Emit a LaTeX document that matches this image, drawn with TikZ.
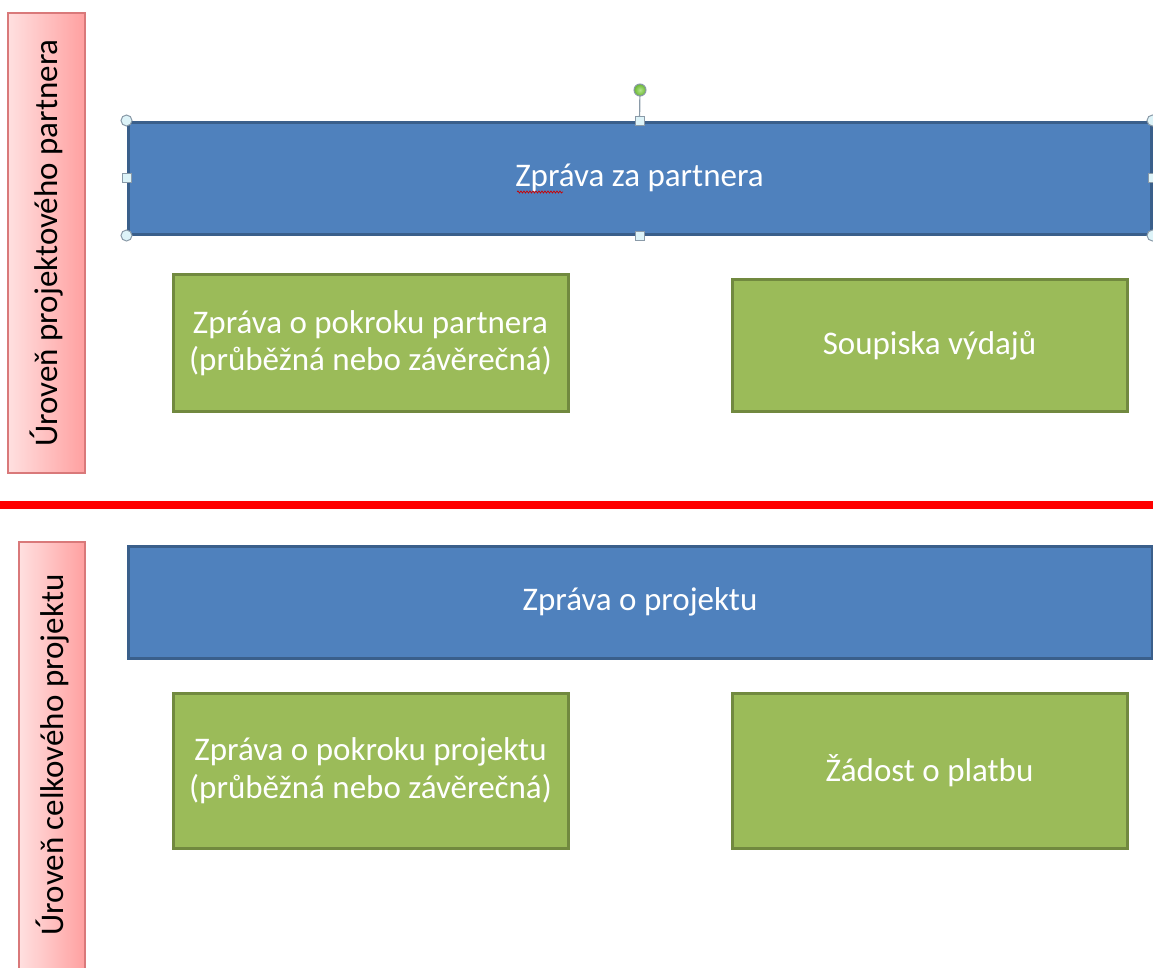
\documentclass[tikz,border=0pt]{standalone}
\usepackage{fontspec}
\setmainfont{Carlito}
\usetikzlibrary{decorations.pathmorphing}
\definecolor{boxblue}{HTML}{4F81BD}
\definecolor{boxblueline}{HTML}{3A5F8B}
\definecolor{boxgreen}{HTML}{9BBB59}
\definecolor{boxgreenline}{HTML}{71893F}
\definecolor{pinkL}{HTML}{FFE0E0}
\definecolor{pinkR}{HTML}{FFA0A0}
\definecolor{pinkline}{HTML}{D9797A}
\definecolor{handlefill}{HTML}{DDF3F8}
\definecolor{handleline}{HTML}{8A9AA8}
\definecolor{rotgreen}{HTML}{7ED63C}
\tikzset{
  txt/.style={font=\fontsize{33}{37.5}\selectfont, align=center},
  bluebox/.style={draw=boxblueline, line width=3pt, fill=boxblue, text=white, txt, inner sep=0pt},
  greenbox/.style={draw=boxgreenline, line width=3pt, fill=boxgreen, text=white, txt, inner sep=0pt},
  levelbox/.style={draw=pinkline, line width=1.2pt, left color=pinkL, right color=pinkR, inner sep=0pt},
  leveltext/.style={txt, text=black, rotate=90},
  cornerhandle/.style={circle, draw=handleline, line width=1pt, fill=handlefill, minimum size=11pt, inner sep=0pt},
  sidehandle/.style={rectangle, draw=handleline, line width=1pt, fill=handlefill, minimum size=9pt, inner sep=0pt},
}
\begin{document}
\begin{tikzpicture}[x=1pt,y=-1pt]
\useasboundingbox (0,0) rectangle (1153,967);
\clip (0,0) rectangle (1153,967);
\fill[white] (0,0) rectangle (1153,967);

% level labels
\node[levelbox, minimum width=77pt, minimum height=460pt] (lv1) at (46.5,243) {};
\node[leveltext] (lv1t) at (lv1.center) {Úroveň projektového partnera};
\node[levelbox, minimum width=66pt, minimum height=428pt] (lv2) at (52,756) {};
\node[leveltext] (lv2t) at (53,755) {Úroveň celkového projektu};

% red separator
\fill[red] (0,501) rectangle (1153,509);

% blue boxes
\node[bluebox, minimum width=1023pt, minimum height=112pt] (zp) at (639.5,178) {Zpráva za partnera};
\node[bluebox, minimum width=1024pt, minimum height=112pt] (zpr) at (640,602) {Zpráva o projektu};

% green boxes
\node[greenbox, minimum width=395pt, minimum height=137pt] (g1) at (370.5,343) {Zpráva o pokroku partnera\\(průběžná nebo závěrečná)};
\node[greenbox, minimum width=395pt, minimum height=132pt] (g2) at (929.5,345.5) {Soupiska výdajů};
\node[greenbox, minimum width=395pt, minimum height=155pt] (g3) at (370.5,770.5) {Zpráva o pokroku projektu\\(průběžná nebo závěrečná)};
\node[greenbox, minimum width=395pt, minimum height=155pt] (g4) at (929.5,770.5) {Žádost o platbu};

% spell-check squiggle
\draw[red!80!black, line width=0.7pt, decorate, decoration={snake, amplitude=1pt, segment length=3pt}] (517,192) -- (563,192);

% selection handles
\coordinate (rot) at (640,90);
\draw[handleline, line width=1.2pt] (zp.north) -- (rot);
\node[circle, draw=handleline, line width=1pt, inner color=rotgreen!60!white, outer color=rotgreen!85!black, minimum size=12pt, inner sep=0pt] (roth) at (rot) {};
\foreach \a in {north west, south west, north east, south east}
  \node[cornerhandle] at (zp.\a) {};
\foreach \a in {north, south, west, east}
  \node[sidehandle] at (zp.\a) {};
\end{tikzpicture}
\end{document}
